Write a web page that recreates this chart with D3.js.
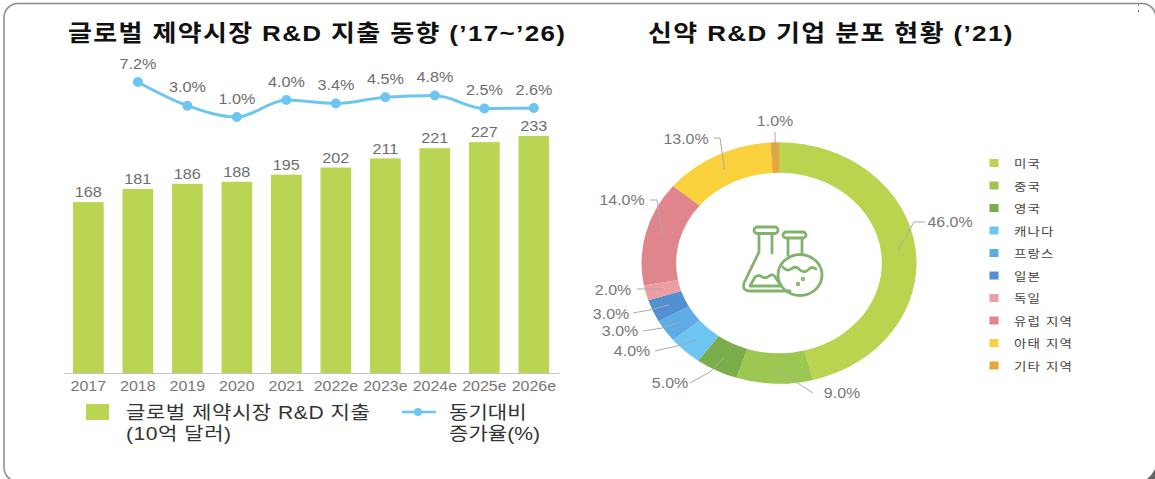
<!DOCTYPE html>
<html lang="ko">
<head>
<meta charset="utf-8">
<script src="https://cdnjs.cloudflare.com/ajax/libs/d3/7.8.5/d3.min.js"></script>
<style>
  html, body { margin: 0; padding: 0; background: #fff; }
  svg { display: block; }
  text { font-family: "Liberation Sans", "Noto Sans CJK KR", sans-serif; }
</style>
</head>
<body>
<svg id="chart" width="1155" height="479"></svg>
<script>
const years = ['2017', '2018', '2019', '2020', '2021', '2022e', '2023e', '2024e', '2025e', '2026e'];
const spending = [168, 181, 186, 188, 195, 202, 211, 221, 227, 233];
const growthYears = years.slice(1);
const growth = [7.2, 3.0, 1.0, 4.0, 3.4, 4.5, 4.8, 2.5, 2.6];

const regions = ['미국', '중국', '영국', '캐나다', '프랑스', '일본', '독일', '유럽 지역', '아태 지역', '기타 지역'];
const shares = [46, 9, 5, 4, 3, 3, 2, 14, 13, 1];
const regionColors = ['#bad44f', '#9cc851', '#7bae4b', '#6dc5f1', '#5fabe4', '#5290d2', '#ec9ea2', '#e0858c', '#f9d13c', '#e8a53a'];

// the picture is stretched sideways, text and ring alike
const stretch = 1.14;

// hand placed donut labels: elbow of the leader, end of the leader, label centre
const leaderLayout = [
  { bend: [914, 222], end: [925, 222], label: [950, 222] },
  { bend: [796, 382], end: [813, 393], label: [842, 393] },
  { bend: [710, 372], end: [690, 383], label: [670, 383] },
  { bend: [677, 346], end: [655, 351], label: [632, 351] },
  { bend: [662, 328], end: [643, 331], label: [620, 331] },
  { bend: [650, 310], end: [633, 313], label: [611, 314] },
  { bend: [650, 289], end: [637, 289], label: [613, 290] },
  { bend: [657, 200], end: [650, 200], label: [622, 200] },
  { bend: [720, 138], end: [714, 138], label: [686, 139] },
  { bend: [775, 132], end: [775, 132], label: [775, 121] }
];

document.addEventListener('DOMContentLoaded', () => {

  const svg = d3.select('#chart');

  // frame runs off the right and bottom of the picture
  svg.append('rect')
    .attr('x', 4)
    .attr('y', 3.5)
    .attr('width', 1152)
    .attr('height', 478)
    .attr('rx', 14)
    .attr('fill', '#fff')
    .attr('stroke', '#8a8a8a')
    .attr('stroke-width', 1.5);
  svg.append('path')
    .attr('d', 'M1155,469 V479 H1147 Q1152,475 1155,469 Z')
    .attr('fill', '#666');
  svg.append('rect').attr('x', 1138).attr('y', 4).attr('width', 1).attr('height', 2).attr('fill', '#777');
  svg.append('rect').attr('x', 1138).attr('y', 10).attr('width', 1).attr('height', 2).attr('fill', '#777');

  function label(parent, txt, x, y, size, color, opts = {}) {
    return parent.append('text')
      .attr('transform', `translate(${x},${y}) scale(${stretch},1)`)
      .attr('text-anchor', opts.anchor || 'middle')
      .attr('dominant-baseline', 'central')
      .attr('font-size', size)
      .attr('font-weight', opts.weight || 'normal')
      .attr('letter-spacing', opts.spacing || null)
      .attr('fill', color)
      .text(txt);
  }

  // two lines of a legend entry stay in one text
  function wrapped(parent, lines, x, y, size, color, gap, spacing) {
    const t = parent.append('text')
      .attr('transform', `translate(${x},${y}) scale(${stretch},1)`)
      .attr('font-size', size)
      .attr('letter-spacing', spacing)
      .attr('fill', color);
    lines.forEach((d, i) => {
      t.append('tspan')
        .attr('x', 0)
        .attr('y', i * gap)
        .attr('dominant-baseline', 'central')
        .text(d);
    });
  }

  // titles
  label(svg, "글로벌 제약시장 R&D 지출 동향 (’17~’26)", 68, 33, 22.8, '#111', { anchor: 'start', weight: 'bold', spacing: 1.2 });
  label(svg, "신약 R&D 기업 분포 현황 (’21)", 648, 33, 22.8, '#111', { anchor: 'start', weight: 'bold', spacing: 1.2 });

  // bars
  const x = d3.scaleBand().domain(years).range([63.6, 558.6]).paddingInner(0.38).paddingOuter(0.19);
  const y = d3.scaleLinear().domain([0, 233]).range([373, 136]);
  const growthY = d3.scaleLinear().domain([1, 7.2]).range([117, 82]);

  svg.append('g')
    .selectAll('rect')
    .data(years)
    .enter().append('rect')
      .attr('x', d => x(d))
      .attr('y', (d, i) => y(spending[i]))
      .attr('width', x.bandwidth())
      .attr('height', (d, i) => y(0) - y(spending[i]))
      .attr('fill', '#bad553');

  years.forEach((d, i) => {
    label(svg, spending[i], x(d) + x.bandwidth() / 2, y(spending[i]) - 10, 14.2, '#6e6e6e');
  });

  const axis = svg.append('g')
    .attr('transform', `translate(0,${y(0)})`)
    .call(d3.axisBottom(x).tickSize(0).tickPadding(8));
  axis.select('.domain').attr('stroke', '#c4c4c4');
  axis.selectAll('text')
    .attr('transform', `scale(${stretch},1)`)
    .attr('font-size', 14)
    .attr('font-family', '"Liberation Sans", sans-serif')
    .attr('fill', '#777');

  // growth line
  const cx = d => x(d) + x.bandwidth() / 2;
  const line = d3.line()
    .x(d => cx(d))
    .y((d, i) => growthY(growth[i]))
    .curve(d3.curveMonotoneX);

  svg.append('path')
    .attr('d', line(growthYears))
    .attr('fill', 'none')
    .attr('stroke', '#6dc6f1')
    .attr('stroke-width', 3);

  svg.append('g')
    .selectAll('circle')
    .data(growthYears)
    .enter().append('circle')
      .attr('cx', d => cx(d))
      .attr('cy', (d, i) => growthY(growth[i]))
      .attr('r', 5)
      .attr('fill', '#6dc6f1');

  growthYears.forEach((d, i) => {
    label(svg, growth[i].toFixed(1) + '%', cx(d), growthY(growth[i]) - 18.5, 14.2, '#6e6e6e');
  });

  // bar/line legend
  svg.append('rect')
    .attr('x', 86)
    .attr('y', 404)
    .attr('width', 23)
    .attr('height', 16)
    .attr('fill', '#bad553');
  wrapped(svg, ['글로벌 제약시장 R&D 지출', '(10억 달러)'], 126, 412, 18.5, '#333', 21, 0.45);

  svg.append('line')
    .attr('x1', 402)
    .attr('x2', 436)
    .attr('y1', 412)
    .attr('y2', 412)
    .attr('stroke', '#6dc6f1')
    .attr('stroke-width', 2.5);
  svg.append('circle')
    .attr('cx', 418)
    .attr('cy', 412)
    .attr('r', 4)
    .attr('fill', '#6dc6f1');
  wrapped(svg, ['동기대비', '증가율(%)'], 449, 412, 18.5, '#333', 21, 0);

  // donut
  const centerX = 779;
  const centerY = 263;
  const pie = d3.pie().sort(null)(shares);
  const arc = d3.arc().innerRadius(90.3).outerRadius(120.7);

  svg.append('g')
    .attr('transform', `translate(${centerX},${centerY}) scale(1.139,1)`)
    .selectAll('path')
    .data(pie)
    .enter().append('path')
      .attr('d', arc)
      .attr('fill', (d, i) => regionColors[i]);

  const leader = d3.line();
  pie.forEach((d, i) => {
    const c = arc.centroid(d);
    const start = [centerX + c[0] * 1.139, centerY + c[1]];
    const l = leaderLayout[i];
    svg.append('path')
      .attr('d', leader([start, l.bend, l.end]))
      .attr('fill', 'none')
      .attr('stroke', '#a9a9a9')
      .attr('stroke-width', 1);
    label(svg, shares[i].toFixed(1) + '%', l.label[0], l.label[1], 14, '#777');
  });

  // donut legend
  regions.forEach((d, i) => {
    const rowY = 163 + i * 22.5;
    svg.append('rect')
      .attr('x', 989.5)
      .attr('y', rowY - 4)
      .attr('width', 9)
      .attr('height', 8)
      .attr('fill', regionColors[i]);
    label(svg, d, 1014, rowY + 1.5, 11.8, '#444', { anchor: 'start', spacing: 1 });
  });

  // flask icon
  const icon = svg.append('g')
    .attr('fill', 'none')
    .attr('stroke', '#82b36c')
    .attr('stroke-width', 2.8)
    .attr('stroke-linejoin', 'round')
    .attr('stroke-linecap', 'round');
  // conical flask
  icon.append('rect').attr('x', 754).attr('y', 227).attr('width', 24).attr('height', 6.5).attr('rx', 3.2);
  icon.append('path').attr('d', 'M759,234 V252 L744,283 Q742,291 750,291 H790');
  icon.append('path').attr('d', 'M772,234 V253');
  icon.append('path').attr('d', 'M750,286 L755,277 Q759,274 762,277 Q766,279 769,276 Q773,273 776,278 L781,286 Z');
  // round flask
  icon.append('rect').attr('x', 783).attr('y', 232).attr('width', 23).attr('height', 6).attr('rx', 3);
  icon.append('path').attr('d', 'M788,238 V255');
  icon.append('path').attr('d', 'M802,238 V255');
  icon.append('ellipse').attr('cx', 800).attr('cy', 275).attr('rx', 22).attr('ry', 20.5);
  icon.append('path').attr('d', 'M783,267 Q787,272 791,269 Q796,265 800,270 Q805,274 809,269 Q812,266 816,269');
  icon.append('circle').attr('cx', 803).attr('cy', 279).attr('r', 0.8);
  icon.append('circle').attr('cx', 798).attr('cy', 284).attr('r', 0.8);
});
</script>
</body>
</html>
